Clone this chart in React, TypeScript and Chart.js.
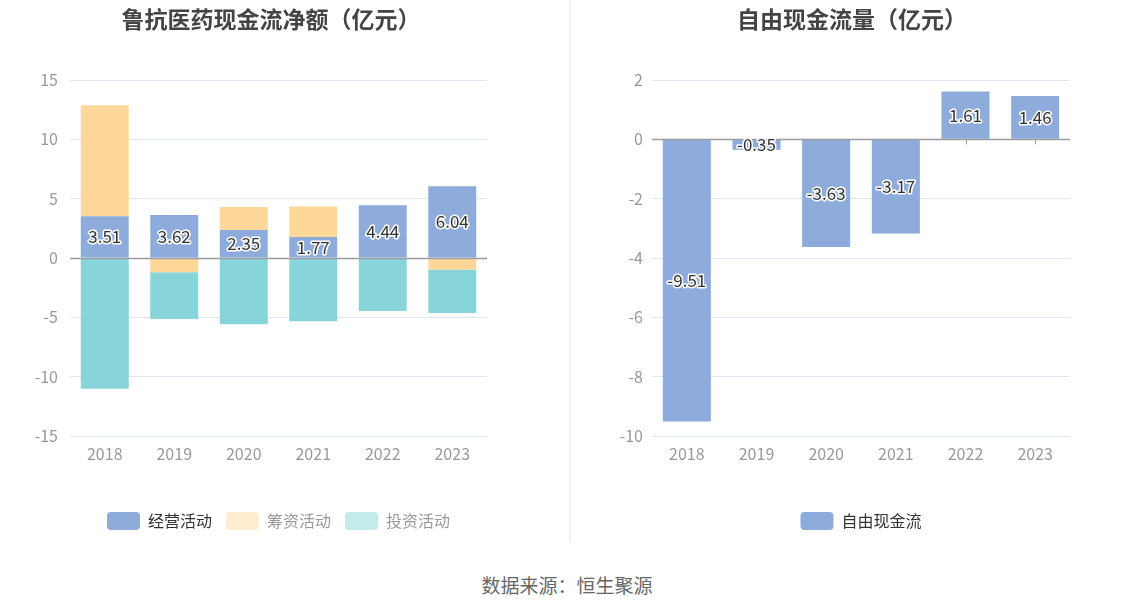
import { useEffect, useRef } from "react";
import { Chart, ChartConfiguration, registerables } from "chart.js";

Chart.register(...registerables);

// 数据
const years = ["2018", "2019", "2020", "2021", "2022", "2023"];
const operating = [3.51, 3.62, 2.35, 1.77, 4.44, 6.04];
const financing = [9.36, -1.21, 1.95, 2.58, 0, -0.96];
const investing = [-11.01, -3.93, -5.59, -5.34, -4.47, -3.67];
const freeCashFlow = [-9.51, -0.35, -3.63, -3.17, 1.61, 1.46];
const leftTicks = [-15, -10, -5, 0, 5, 10, 15];
const rightTicks = [-10, -8, -6, -4, -2, 0, 2];

const FONT = "'Noto Sans CJK SC', 'Noto Sans', sans-serif";
const BLUE = "#8eacdb";
const ORANGE = "#ffd899";
const TEAL = "#87d5d8";
const GRID = "#e0e6f1";
const AXIS = "#9a9ca4";

Chart.defaults.font.family = FONT;

// 零轴线、刻度和数值标签
const barExtras = {
  id: "barExtras",
  beforeDatasetsDraw(chart: any) {
    const { ctx, scales } = chart;
    const y0 = scales.y.getPixelForValue(0);
    ctx.save();
    ctx.strokeStyle = AXIS;
    ctx.lineWidth = 1;
    years.forEach((_, i) => {
      const x = Math.round(scales.x.getPixelForValue(i)) + 0.5;
      ctx.beginPath();
      ctx.moveTo(x, y0);
      ctx.lineTo(x, y0 + 5);
      ctx.stroke();
    });
    ctx.restore();
  },
  afterDatasetsDraw(chart: any) {
    const { ctx, scales, chartArea } = chart;
    const y0 = Math.round(scales.y.getPixelForValue(0)) + 0.5;
    ctx.save();
    ctx.strokeStyle = AXIS;
    ctx.lineWidth = 1.5;
    ctx.beginPath();
    ctx.moveTo(chartArea.left, y0);
    ctx.lineTo(chartArea.right, y0);
    ctx.stroke();

    ctx.font = `17px ${FONT}`;
    ctx.textAlign = "center";
    ctx.textBaseline = "middle";
    ctx.lineJoin = "round";
    chart.data.datasets.forEach((ds: any, di: number) => {
      if (!ds.showValue) return;
      chart.getDatasetMeta(di).data.forEach((bar: any, i: number) => {
        const text = ds.data[i].toFixed(2);
        const y = (bar.y + bar.base) / 2;
        ctx.lineWidth = 3;
        ctx.strokeStyle = "#fff";
        ctx.strokeText(text, bar.x, y);
        ctx.fillStyle = "#333";
        ctx.fillText(text, bar.x, y);
      });
    });
    ctx.restore();
  },
};

function baseOptions(yTicks: number[], pad: any, yWidth: number, tickPad: number, legendItems: any[]) {
  return {
    responsive: false,
    animation: false,
    layout: { padding: pad },
    plugins: {
      title: { display: false },
      legend: {
        position: "bottom",
        fullSize: false,
        labels: {
          boxWidth: 33,
          boxHeight: 18,
          useBorderRadius: true,
          borderRadius: 4,
          padding: 14,
          font: { size: 16 },
          generateLabels: () => legendItems,
        },
        onClick: () => {},
      },
      tooltip: { enabled: false },
    },
    scales: {
      x: {
        stacked: true,
        grid: { display: false },
        border: { display: false },
        ticks: { color: "#999", font: { size: 16 }, padding: 0 },
        afterFit: (s: any) => {
          s.height = 62;
        },
      },
      y: {
        stacked: true,
        min: yTicks[0],
        max: yTicks[yTicks.length - 1],
        grid: {
          drawTicks: false,
          color: (c: any) => (c.tick && c.tick.value === 0 ? "transparent" : GRID),
        },
        border: { display: false },
        ticks: { color: "#999", font: { size: 16 }, padding: tickPad },
        afterBuildTicks: (s: any) => {
          s.ticks = yTicks.map((v) => ({ value: v }));
        },
        afterFit: (s: any) => {
          s.width = yWidth;
        },
      },
    },
  };
}

function legendItem(text: string, fill: string, fontColor: string) {
  return { text, fillStyle: fill, strokeStyle: fill, lineWidth: 0, fontColor, hidden: false, borderRadius: 4 };
}

function leftConfig(): ChartConfiguration {
  return {
    type: "bar",
    data: {
      labels: years,
      datasets: [
        { label: "经营活动", data: operating, backgroundColor: BLUE, barPercentage: 0.69, categoryPercentage: 1, showValue: true } as any,
        { label: "筹资活动", data: financing, backgroundColor: ORANGE, barPercentage: 0.69, categoryPercentage: 1 },
        { label: "投资活动", data: investing, backgroundColor: TEAL, barPercentage: 0.69, categoryPercentage: 1 },
      ],
    },
    options: baseOptions(leftTicks, { left: 0, right: 83, top: 80, bottom: 5 }, 70, 12, [
      legendItem("经营活动", BLUE, "#333"),
      legendItem("筹资活动", "#ffedd1", "#999"),
      legendItem("投资活动", "#c3ebeb", "#999"),
    ]) as any,
    plugins: [barExtras],
  };
}

function rightConfig(): ChartConfiguration {
  return {
    type: "bar",
    data: {
      labels: years,
      datasets: [
        { label: "自由现金流", data: freeCashFlow, backgroundColor: BLUE, barPercentage: 0.69, categoryPercentage: 1, showValue: true } as any,
      ],
    },
    options: baseOptions(rightTicks, { left: 0, right: 64, top: 80, bottom: 5 }, 82, 9, [
      legendItem("自由现金流", BLUE, "#333"),
    ]) as any,
    plugins: [barExtras],
  };
}

function BarPanel({ make, left, width, title, titleCenter }: { make: () => ChartConfiguration; left: number; width: number; title: string; titleCenter: number }) {
  const canvasRef = useRef<HTMLCanvasElement>(null);

  useEffect(() => {
    if (!canvasRef.current) return;
    const chart = new Chart(canvasRef.current, make());
    return () => chart.destroy();
  }, [make]);

  return (
    <div style={{ position: "absolute", left, top: 0, width, height: 545 }}>
      <canvas ref={canvasRef} width={width} height={545} style={{ width, height: 545 }} />
      <div
        style={{
          position: "absolute",
          left: titleCenter - 200,
          width: 400,
          top: 2,
          textAlign: "center",
          fontFamily: FONT,
          fontSize: 23,
          fontWeight: "bold",
          lineHeight: "32px",
          color: "#444",
        }}
      >
        {title}
      </div>
    </div>
  );
}

export default function App() {
  return (
    <div style={{ position: "fixed", left: 0, top: 0, width: 1134, height: 612, background: "#fff", overflow: "hidden" }}>
      <BarPanel make={leftConfig} left={0} width={570} title="鲁抗医药现金流净额（亿元）" titleCenter={271} />
      <BarPanel make={rightConfig} left={570} width={564} title="自由现金流量（亿元）" titleCenter={282} />
      <div style={{ position: "absolute", left: 569, top: 0, width: 2, height: 542, background: "#f2f2f2" }} />
      <div
        style={{
          position: "absolute",
          left: 0,
          width: 1134,
          top: 571,
          textAlign: "center",
          fontFamily: FONT,
          fontSize: 19,
          lineHeight: "28px",
          color: "#666",
        }}
      >
        数据来源：恒生聚源
      </div>
    </div>
  );
}
